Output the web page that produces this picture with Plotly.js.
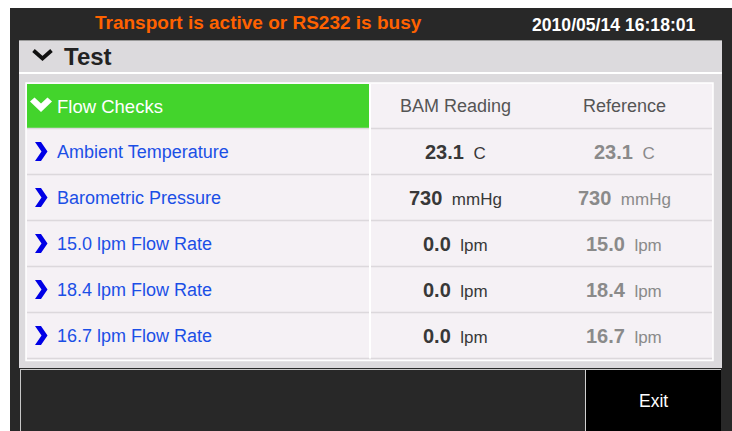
<!DOCTYPE html>
<html><head><meta charset="utf-8">
<script src="https://cdn.plot.ly/plotly-3.0.1.min.js"></script>
<style>html,body{margin:0;padding:0;background:#fff;overflow:hidden}#chart{width:732px;height:431px}</style>
</head><body><div id="chart"></div>
<script>
// ---- data ----
const statusText = 'Transport is active or RS232 is busy';
const timestamp = '2010/05/14 16:18:01';
const sectionTitle = 'Test';
const groupTitle = 'Flow Checks';
const columnHeaders = ['BAM Reading', 'Reference'];
const rowLabels = ['Ambient Temperature', 'Barometric Pressure', '15.0 lpm Flow Rate', '18.4 lpm Flow Rate', '16.7 lpm Flow Rate'];
const bamValues = ['23.1', '730', '0.0', '0.0', '0.0'];
const refValues = ['23.1', '730', '15.0', '18.4', '16.7'];
const units = ['C', 'mmHg', 'lpm', 'lpm', 'lpm'];
const buttonLabel = 'Exit';

// ---- layout geometry (pixels) ----
const W = 732, H = 431;
const FONT = 'Liberation Sans, Arial, Helvetica, sans-serif';
const headTop = 84, headBot = 128.5, rowH = 46;
const tableL = 27, tableR = 712, divX = 370;
const colBamX = 455, colRefX = 624, labelX = 55;
const rowCenter = i => headBot + rowH * i + rowH / 2;
const nRows = rowLabels.length;
const tableBot = headBot + rowH * nRows;

const shapes = [];
const rect = (x0, y0, x1, y1, fill, line) => shapes.push({type: 'rect', xref: 'x', yref: 'y', x0, y0, x1, y1, fillcolor: fill, line: line || {width: 0}, layer: 'below'});
const seg = (x0, y0, x1, y1, color, width) => shapes.push({type: 'line', xref: 'x', yref: 'y', x0, y0, x1, y1, line: {color, width}, layer: 'below'});
const path = (p, fill) => shapes.push({type: 'path', xref: 'x', yref: 'y', path: p, fillcolor: fill, line: {width: 0}, layer: 'below'});

// background frame
rect(10, 8, W, H, '#282828');
// panel
rect(19, 40, 722, 368, '#dcdadd');
seg(19, 40.5, 722, 40.5, '#9a9a9a', 1);
seg(19, 73, 722, 73, '#ffffff', 2);
// table
rect(26, 83, 713, tableBot + 2, '#f5f1f5', {color: '#ffffff', width: 1.5});
rect(tableL, headTop, divX - 1, headBot, '#43d42c');
for (let i = 0; i <= nRows; i++) seg(tableL, headBot + rowH * i, tableR, headBot + rowH * i, '#dcd8dc', 1.5);
seg(divX, headTop, divX, tableBot, '#ffffff', 2);
// bottom bar
seg(20, 369.5, 721, 369.5, '#c8c8c8', 1);
seg(20.5, 369.5, 20.5, H, '#c8c8c8', 1);
rect(585, 370, 721, H, '#000000');
seg(585.5, 369.5, 585.5, H, '#d0d0d0', 1);

// chevrons
shapes.push({type: 'path', xref: 'x', yref: 'y', path: 'M 33.5 50.5 L 42.5 58.5 L 51.5 50.5', line: {color: '#111111', width: 3.8}, layer: 'above'});
path('M 30 101.5 L 34.5 97.5 L 41 103.5 L 47.5 97.5 L 52 101.5 L 41 112 Z', '#ffffff');
for (let i = 0; i < nRows; i++) {
  const c = rowCenter(i);
  path(`M 35 ${c-9.5} L 41 ${c-9.5} L 47.5 ${c} L 41 ${c+9.5} L 35 ${c+9.5} L 41.5 ${c} Z`, '#0000e6');
}

// ---- text ----
const ann = [];
const txt = (x, y, text, size, color, xanchor, extra) => ann.push(Object.assign({xref: 'x', yref: 'y', x, y, text, showarrow: false, xanchor: xanchor || 'center', yanchor: 'middle', font: {family: FONT, size, color}}, extra || {}));

txt(258, 22, '<b>' + statusText + '</b>', 19, '#ff6200');
txt(614, 24.5, '<b>' + timestamp + '</b>', 17.6, '#ffffff');
txt(62, 56, '<b>' + sectionTitle + '</b>', 24, '#222222', 'left');
txt(labelX, 106, groupTitle, 18.5, '#ffffff', 'left');
txt(colBamX, 106, columnHeaders[0], 18, '#555555');
txt(colRefX, 106, columnHeaders[1], 18, '#555555');
for (let i = 0; i < nRows; i++) {
  const y = rowCenter(i);
  txt(labelX, y, rowLabels[i], 18, '#1b4fe6', 'left');
  txt(colBamX, y, '<b style="font-size:20px">' + bamValues[i] + '</b>\u00a0\u00a0' + units[i], 17, '#383838');
  txt(colRefX, y, '<b style="font-size:20px">' + refValues[i] + '</b>\u00a0\u00a0' + units[i], 17, '#8a8a8a');
}
txt(653, 401, buttonLabel, 17.5, '#ffffff');

const data = [{type: 'scatter', x: [0, W], y: [0, H], mode: 'markers', marker: {opacity: 0}, hoverinfo: 'skip', showlegend: false}];
const layout = {
  width: W, height: H,
  margin: {l: 0, r: 0, t: 0, b: 0, pad: 0},
  paper_bgcolor: '#ffffff', plot_bgcolor: '#ffffff',
  xaxis: {range: [0, W], visible: false, fixedrange: true},
  yaxis: {range: [H, 0], visible: false, fixedrange: true},
  shapes, annotations: ann, showlegend: false
};
Plotly.newPlot('chart', data, layout, {staticPlot: true, displayModeBar: false});
</script></body></html>
